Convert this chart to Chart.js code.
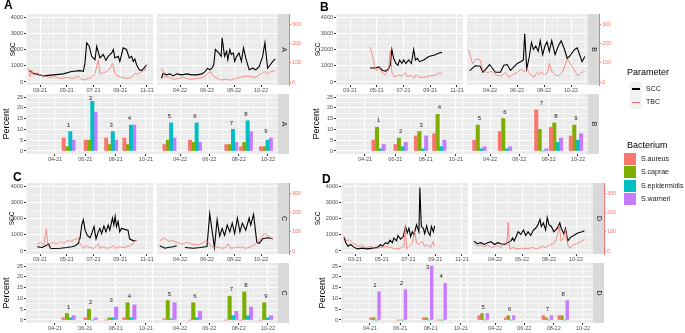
<!DOCTYPE html>
<html>
<head>
<meta charset="utf-8">
<script src="https://cdn.jsdelivr.net/npm/chart.js@4.4.1/dist/chart.umd.min.js"></script>
<style>
  body { margin: 0; width: 685px; height: 333px; background: #fff; position: relative; overflow: hidden;
         font-family: 'Liberation Sans', Arial, sans-serif; }
  .abs { position: absolute; white-space: nowrap; }
  .letter { font-size: 12px; font-weight: bold; line-height: 12px; color: #000; }
  .ltitle { font-size: 9px; line-height: 10px; color: #000; }
  .litem { font-size: 7px; line-height: 8px; color: #1A1A1A; }
</style>
</head>
<body>
<script>
// months are counted from Jan 2021 = 1 (Jan 2022 = 13)
// SCC / TBC series: [month, value]
const sccA21 = [[2.21,700],[2.51,540],[3.25,375],[4.00,440],[4.74,500],[5.37,650],[5.99,700],[6.24,650],[6.36,1160],[6.49,2400],[6.68,2200],[6.86,1580],[7.11,1370],[7.24,2200],[7.48,1480],[7.73,1690],[7.93,1330],[8.10,1580],[8.36,1790],[8.48,2000],[8.60,1480],[8.85,1580],[8.97,1270],[9.22,2100],[9.47,2000],[9.67,1480],[9.85,1580],[9.97,1270],[10.09,1420],[10.22,1060],[10.42,750],[10.59,700],[10.77,850],[10.97,1060]];
const tbcA21 = [[2.13,71],[2.26,28],[2.38,62],[2.51,36],[2.76,48],[3.00,36],[3.38,31],[3.75,24],[4.12,28],[4.50,19],[4.99,24],[5.49,19],[5.86,31],[6.12,14],[6.36,10],[6.61,19],[6.86,24],[7.11,45],[7.36,114],[7.48,42],[7.73,48],[7.98,54],[8.23,71],[8.43,97],[8.60,45],[8.85,31],[9.10,24],[9.47,19],[9.85,24],[10.09,45],[10.34,42],[10.59,54],[10.84,62],[10.97,88]];
const sccA22 = [[14.63,230],[14.75,540],[15.00,440],[15.25,500],[15.50,375],[15.75,500],[16.13,440],[16.50,500],[16.88,440],[17.25,440],[17.63,500],[17.87,650],[18.05,850],[18.20,750],[18.37,850],[18.50,1060],[18.62,2000],[18.87,1790],[19.05,1580],[19.12,2720],[19.30,1580],[19.45,1890],[19.54,1370],[19.69,2000],[19.80,1690],[19.95,1790],[20.05,1270],[20.20,1580],[20.37,1790],[20.55,1270],[20.70,2100],[20.87,1480],[21.12,750],[21.37,850],[21.62,750],[21.87,960],[22.12,1580],[22.29,2410],[22.49,850],[22.69,1060],[22.87,1270],[23.05,1420]];
const tbcA22 = [[14.63,71],[14.75,54],[14.88,24],[15.13,28],[15.50,14],[15.88,19],[16.25,24],[16.75,14],[17.25,19],[17.75,24],[18.00,42],[18.25,54],[18.50,28],[18.75,19],[19.00,10],[19.37,14],[19.75,10],[20.12,19],[20.49,24],[20.87,31],[21.24,28],[21.62,24],[21.99,42],[22.24,54],[22.49,42],[22.74,54],[23.04,59]];

const sccB21 = [[4.50,860],[4.88,860],[5.18,925],[5.43,710],[5.68,667],[5.88,817],[6.01,1030],[6.13,2000],[6.26,1460],[6.43,1140],[6.58,1030],[6.71,1355],[6.88,1140],[7.01,1355],[7.18,1140],[7.38,1355],[7.59,1140],[7.76,2000],[7.89,1355],[8.04,1460],[8.19,1250],[8.51,1355],[8.89,1570],[9.39,1680],[9.77,1830],[9.89,1785]];
const tbcB21 = [[4.50,182],[4.68,138],[4.83,85],[5.00,58],[5.18,76],[5.38,49],[5.63,37],[5.88,58],[6.01,164],[6.13,49],[6.33,26],[6.63,37],[6.88,32],[7.13,49],[7.33,26],[7.51,37],[7.76,19],[7.93,37],[8.26,23],[8.64,26],[9.01,32],[9.39,37],[9.76,49],[9.89,37]];
const sccB22 = [[14.50,700],[14.90,1000],[15.27,970],[15.48,600],[15.72,820],[15.97,1075],[16.40,600],[16.77,600],[17.02,1030],[17.27,1075],[17.52,710],[17.77,925],[18.02,1140],[18.27,1250],[18.47,1355],[18.57,2970],[18.72,820],[18.89,1460],[19.07,2430],[19.22,2000],[19.39,2215],[19.57,1890],[19.72,2540],[19.90,1680],[20.07,2215],[20.22,2470],[20.39,1890],[20.57,2540],[20.82,1680],[21.06,2215],[21.27,2540],[21.52,2000],[21.72,1460],[21.89,1570],[22.07,1785],[22.27,2000],[22.46,2100],[22.64,1680],[22.82,1250],[23.02,1570]];
const tbcB22 = [[14.40,170],[14.70,95],[15.00,120],[15.27,115],[15.48,58],[15.77,49],[16.15,55],[16.40,37],[16.77,32],[17.15,49],[17.40,23],[17.65,37],[18.02,49],[18.27,67],[18.52,55],[18.77,62],[19.02,37],[19.27,26],[19.47,49],[19.64,37],[19.82,55],[20.02,37],[20.27,49],[20.39,97],[20.57,58],[20.82,37],[21.06,32],[21.39,55],[21.72,120],[21.97,93],[22.27,58],[22.52,32],[22.77,49],[23.02,55]];

const sccC21 = [[2.79,257],[3.16,214],[3.41,320],[3.65,428],[3.78,171],[4.02,150],[4.52,171],[5.01,214],[5.39,257],[5.63,320],[5.87,470],[6.00,813],[6.12,1600],[6.24,1930],[6.37,1280],[6.54,960],[6.74,813],[6.87,1070],[7.04,1500],[7.19,750],[7.36,1180],[7.48,1390],[7.61,1070],[7.78,1540],[7.93,1180],[8.10,1600],[8.22,1280],[8.42,2030],[8.52,1600],[8.62,2140],[8.72,1500],[8.84,1820],[8.96,1180],[9.09,1390],[9.33,1330],[9.58,1280],[9.70,750],[9.95,640],[10.20,640]];
const tbcC21 = [[2.79,36],[3.04,45],[3.28,32],[3.48,115],[3.58,27],[3.78,39],[4.02,45],[4.27,36],[4.52,50],[4.77,39],[5.01,54],[5.26,50],[5.51,57],[5.75,63],[5.88,68],[6.00,36],[6.25,14],[6.49,27],[6.74,18],[6.99,14],[7.23,27],[7.36,36],[7.48,14],[7.73,22],[7.98,14],[8.22,18],[8.47,27],[8.72,14],[8.96,22],[9.21,18],[9.46,22],[9.70,27],[9.95,36],[10.07,57],[10.20,50]];
const sccC22 = [[14.50,320],[14.88,171],[15.12,214],[15.50,257],[15.75,320],[15.90,null],[16.37,214],[17.00,171],[17.50,214],[18.00,278],[18.20,2290],[18.37,1280],[18.55,214],[18.75,1930],[18.94,900],[19.12,1390],[19.30,960],[19.50,1600],[19.69,1180],[19.87,1710],[20.05,1070],[20.25,2030],[20.44,1180],[20.62,1710],[20.87,1280],[21.12,2030],[21.24,1600],[21.45,2250],[21.69,535],[21.87,470],[22.12,750],[22.49,813],[22.87,750]];
const tbcC22 = [[14.50,54],[14.88,68],[15.13,50],[15.50,54],[15.75,45],[16.13,36],[16.50,45],[16.87,36],[17.25,32],[17.62,39],[18.00,54],[18.25,27],[18.50,18],[18.75,22],[19.12,14],[19.37,18],[19.55,36],[19.75,14],[20.12,18],[20.49,22],[20.87,14],[21.24,22],[21.49,32],[21.74,45],[21.99,68],[22.24,90],[22.49,81],[22.74,68],[22.87,63]];

const sccD21 = [[2.18,843],[2.31,510],[2.48,290],[2.68,400],[2.93,222],[3.18,133],[3.55,178],[3.93,133],[4.30,178],[4.67,222],[4.92,400],[5.04,290],[5.29,510],[5.46,444],[5.61,666],[5.79,510],[5.91,800],[6.11,620],[6.21,955],[6.41,730],[6.61,888],[6.78,1510],[6.91,1110],[7.03,1400],[7.16,888],[7.28,1180],[7.41,1020],[7.60,1620],[7.78,1180],[7.85,3900],[7.96,1510],[8.11,1400],[8.21,1065],[8.36,1550],[8.46,1180],[8.61,955],[8.71,1510],[8.86,1180],[8.95,1550]];
const tbcD21 = [[2.18,78],[2.38,51],[2.55,60],[2.80,42],[3.05,33],[3.30,24],[3.55,29],[3.80,18],[4.17,24],[4.54,15],[4.92,18],[5.29,24],[5.66,18],[6.04,11],[6.41,15],[6.66,24],[6.76,133],[6.86,11],[7.03,24],[7.28,42],[7.46,102],[7.60,42],[7.78,33],[8.03,51],[8.20,24],[8.40,33],[8.66,18],[8.86,51],[8.95,24]];
const sccD22 = [[14.45,600],[14.70,450],[14.97,510],[15.22,400],[15.46,510],[15.71,577],[15.95,400],[16.20,510],[16.44,444],[16.69,400],[16.93,510],[17.18,620],[17.30,800],[17.42,620],[17.54,843],[17.72,1180],[17.91,1020],[18.11,1290],[18.28,955],[18.45,1180],[18.65,955],[18.84,1290],[19.01,1400],[19.19,1620],[19.33,1950],[19.43,1510],[19.58,1730],[19.75,1290],[19.87,2060],[20.00,1620],[20.17,1510],[20.36,1180],[20.61,1400],[20.80,1730],[20.90,1400],[21.10,1065],[21.22,1400],[21.39,620],[21.59,843],[21.83,955],[22.13,1110],[22.45,1180],[22.62,1245]];
const tbcD22 = [[14.45,40],[14.70,25],[14.97,33],[15.22,24],[15.46,29],[15.83,18],[16.20,29],[16.44,18],[16.69,42],[16.88,33],[16.98,151],[17.08,11],[17.30,18],[17.67,11],[18.03,15],[18.40,11],[18.77,18],[19.14,11],[19.50,24],[19.75,18],[20.12,33],[20.41,42],[20.61,78],[20.75,133],[20.90,51],[21.10,69],[21.22,115],[21.39,33],[21.54,15],[21.83,33],[22.20,42],[22.62,60]];

// bacteria percentages per sampling: [S.aureus, S.caprae, S.epidermidis, S.warneri]
const bacteria = ['S.aureus', 'S.caprae', 'S.epidermidis', 'S.warneri'];
const dates21 = [4.9, 6.35, 7.7, 8.9];
const dates22 = [15.28, 17.02, 19.5, 20.5, 21.86];
const datesD21 = [4.33, 6.07, 7.8, 8.69];
const datesD22 = [15.2, 17.0, 19.57, 20.65];
const samples21 = ['1', '2', '3', '4'];
const samples22 = ['5', '6', '7', '8', '9'];
const samplesD22 = ['5', '6', '7', '8'];
const barsA21 = [[6,2,9,5],[5,5,23,18],[6,3,9,5],[6,3,12,12]];
const barsA22 = [[3,5,13,6],[5,4,13,4],[3,3,10,4],[2,4,14,9],[2,2,5,6]];
const barsB21 = [[5,11,1,3],[3,6,2,4],[7,9,1,7],[8,17,2,5]];
const barsB22 = [[5,12,1,2],[9,15,1,2],[19,10,0,1],[11,13,4,6],[7,12,5,8]];
const barsC21 = [[1,3,1,2],[1,5,0,1],[0,1,1,6],[1,8,1,7]];
const barsC22 = [[0.5,9,0.5,8],[0,8,1,4],[0,11,2,4],[0,13,2,6],[0,8,1,2]];
const barsD21 = [[1,1,0,13],[0,0,0,14],[1,1,0,25],[0,0,0,17]];
const barsD22 = [[2,3,0,3],[1,2,0,2],[2,1,0,2],[2,2,0,9]];

const COLORS = ['#F8766D', '#7CAE00', '#00BFC4', '#C77CFF'];
const RED = '#F8766D';
const FONT = "'Liberation Sans', Arial, sans-serif";
const tickFont = { family: FONT, size: 5.5, lineHeight: 1 };
Chart.defaults.font.family = FONT;

const panels = [
  { key: 'A', ox: 0, oy: 0, letter: [4, -1], sccX: 13, pctX: 7, bw: 3.3,
    scc21: sccA21, tbc21: tbcA21, scc22: sccA22, tbc22: tbcA22,
    d21: dates21, b21: barsA21, n21: samples21, d22: dates22, b22: barsA22, n22: samples22 },
  { key: 'B', ox: 310, oy: 0, letter: [320, 1], sccX: 318.3, pctX: 316.7, bw: 3.4,
    scc21: sccB21, tbc21: tbcB21, scc22: sccB22, tbc22: tbcB22,
    d21: dates21, b21: barsB21, n21: samples21, d22: dates22, b22: barsB22, n22: samples22 },
  { key: 'C', ox: 0, oy: 169, letter: [13, 171], sccX: 12.5, pctX: 6.7, bw: 3.4,
    scc21: sccC21, tbc21: tbcC21, scc22: sccC22, tbc22: tbcC22,
    d21: dates21, b21: barsC21, n21: samples21, d22: dates22, b22: barsC22, n22: samples22 },
  { key: 'D', ox: 315, oy: 169, letter: [322, 172.5], sccX: 318.3, pctX: 322.5, bw: 2.7,
    scc21: sccD21, tbc21: tbcD21, scc22: sccD22, tbc22: tbcD22,
    d21: datesD21, b21: barsD21, n21: samples21, d22: datesD22, b22: barsD22, n22: samplesD22 }
];

function mlab(v) {
  const n = Math.round(v) - 1;
  return String(n % 12 + 1).padStart(2, '0') + '-' + (21 + Math.floor(n / 12));
}

// fixed tick list between the axis limits (Chart.js otherwise picks odd steps here)
function stepTicks(min, max, step) {
  const out = [];
  for (let v = Math.ceil(min / step) * step; v <= max + 1e-9; v += step) out.push({ value: Math.round(v * 1000) / 1000 });
  return out;
}

function makeCanvas(left, top, w, h) {
  const d = document.createElement('div');
  d.className = 'abs';
  d.style.left = left + 'px'; d.style.top = top + 'px';
  d.style.width = w + 'px'; d.style.height = h + 'px';
  const c = document.createElement('canvas');
  d.appendChild(c);
  document.body.appendChild(d);
  return c;
}

function addText(cls, text, left, top) {
  const d = document.createElement('div');
  d.className = 'abs ' + cls;
  d.textContent = text;
  d.style.left = left + 'px'; d.style.top = top + 'px';
  document.body.appendChild(d);
  return d;
}

function addBox(left, top, w, h, color) {
  const d = document.createElement('div');
  d.className = 'abs';
  Object.assign(d.style, { left: left + 'px', top: top + 'px', width: w + 'px', height: h + 'px', background: color });
  document.body.appendChild(d);
}

const panelBg = {
  id: 'panelBg',
  beforeDraw(ch) {
    const a = ch.chartArea, c = ch.ctx;
    c.save(); c.fillStyle = '#EBEBEB';
    c.fillRect(a.left, a.top, a.right - a.left, a.bottom - a.top);
    c.restore();
  }
};

function xAxis(min, max, oddMajor) {
  const major = v => Math.abs(Math.round(v) % 2) === (oddMajor ? 1 : 0);
  return {
    type: 'linear', position: 'bottom', min, max, offset: false,
    afterBuildTicks: s => { s.ticks = stepTicks(min, max, 1); },
    ticks: { autoSkip: false, maxRotation: 0, minRotation: 0,
             padding: 0.5, color: '#4D4D4D', font: tickFont, callback: v => major(v) ? mlab(v) : '' },
    grid: { offset: false, color: '#FFFFFF', lineWidth: c => (c.tick && major(c.tick.value)) ? 1 : 0.5,
            tickLength: 2, tickWidth: 1,
            tickColor: c => (c.tick && major(c.tick.value)) ? '#333333' : 'rgba(0,0,0,0)' },
    border: { display: false },
    afterFit: s => { s.height = 10; }
  };
}

function yAxis(min, max, step, every, show, title, titlePad, width) {
  const major = v => Math.abs(v % every) < 1e-9;
  return {
    type: 'linear', position: 'left', min, max,
    afterBuildTicks: s => { s.ticks = stepTicks(min, max, step); },
    ticks: { display: show, autoSkip: false, padding: 1,
             color: '#4D4D4D', font: tickFont, callback: v => major(v) ? v : '' },
    grid: { color: '#FFFFFF', lineWidth: c => (c.tick && major(c.tick.value)) ? 1 : 0.5,
            drawTicks: show, tickLength: 2,
            tickColor: c => (c.tick && major(c.tick.value)) ? '#333333' : 'rgba(0,0,0,0)' },
    border: { display: false },
    title: { display: !!title, text: title || '', color: '#000',
             font: { family: FONT, size: title === 'SCC' ? 6.5 : 9, lineHeight: 1 },
             padding: { top: titlePad || 0, bottom: 0 } },
    afterFit: s => { s.width = width; }
  };
}

function stripAxis(text) {
  return {
    type: 'linear', position: 'right', weight: 1, min: 0, max: 1, backgroundColor: '#D9D9D9',
    ticks: { display: false }, grid: { display: false }, border: { display: false },
    title: { display: true, text, color: '#1A1A1A', font: { family: FONT, size: 7, lineHeight: 1 },
             padding: { top: 2, bottom: 0 } },
    afterFit: s => { s.width = 11; }
  };
}

const baseOpts = {
  responsive: true, maintainAspectRatio: false, animation: false, devicePixelRatio: 1, events: [],
  plugins: { legend: { display: false }, tooltip: { enabled: false } }
};

// ---- line row: SCC (left axis) and TBC (right axis) ----
const LY = { top: 14, bottom: 85 };
function lineFacet(p, left) {
  const pad = 4;
  const caL = left ? 26 : 157, caR = left ? 153 : 278;
  const divL = p.ox + (left ? 0 : caL - pad);
  const divR = p.ox + caR + (left ? 0 : 11 + 20) + pad;
  const divT = p.oy + LY.top - pad;
  const divH = (LY.bottom - LY.top) + pad + 10 + 2;
  const canvas = makeCanvas(divL, divT, divR - divL, divH);
  const scc = left ? p.scc21 : p.scc22, tbc = left ? p.tbc21 : p.tbc22;
  const scales = {
    x: left ? xAxis(1.953, 11.449, true) : xAxis(14.296, 23.259, false),
    y: yAxis(-185, 4185, 500, 1000, left, left ? 'SCC' : null, left ? p.sccX - p.ox - 3.25 : 0, left ? caL : 0),
    y1: {
      type: 'linear', position: 'right', weight: 2, display: !left, min: -15.6, max: 354,
      afterBuildTicks: s => { s.ticks = stepTicks(-15.6, 354, 100); },
      ticks: { autoSkip: false, padding: 1, color: RED, font: tickFont },
      grid: { drawOnChartArea: false, tickLength: 2, tickColor: RED, color: RED },
      border: { display: true, color: RED, width: 1 },
      afterFit: s => { s.width = left ? 0 : 20; }
    }
  };
  if (!left) scales.strip = stripAxis(p.key);
  new Chart(canvas, {
    type: 'line',
    data: { datasets: [
      { label: 'TBC', data: tbc.map(([x, y]) => ({ x, y })), yAxisID: 'y1', borderColor: RED,
        borderWidth: 0.8, pointRadius: 0, tension: 0 },
      { label: 'SCC', data: scc.map(([x, y]) => ({ x, y })), yAxisID: 'y', borderColor: '#000000',
        borderWidth: 1.1, pointRadius: 0, tension: 0 }
    ] },
    options: Object.assign({}, baseOpts, {
      layout: { padding: { left: left ? 0 : pad, right: pad, top: pad, bottom: 2 } },
      scales
    }),
    plugins: [panelBg]
  });
}

// ---- bar row: bacteria percentages ----
const BY = { top: 94, bottom: 154 };
function barFacet(p, left) {
  const pad = 4;
  const caL = left ? 26 : 153, caR = left ? 152 : 278;
  const divL = p.ox + (left ? 0 : caL - pad);
  const divR = p.ox + caR + (left ? 0 : 11) + pad;
  const divT = p.oy + BY.top - pad;
  const divH = (BY.bottom - BY.top) + pad + 10 + 2;
  const canvas = makeCanvas(divL, divT, divR - divL, divH);
  const dates = left ? p.d21 : p.d22, rows = left ? p.b21 : p.b22, names = left ? p.n21 : p.n22;
  const scales = {
    x: left ? xAxis(2.088, 10.396, false) : xAxis(14.159, 22.682, false),
    y: yAxis(-1.39, 26.39, 2.5, 5, left, left ? 'Percent' : null, left ? p.pctX - p.ox - 4.5 : 0, left ? caL : 0)
  };
  if (!left) scales.strip = stripAxis(p.key);
  const sampleLabels = {
    id: 'sampleLabels',
    afterDatasetsDraw(ch) {
      const c = ch.ctx, xs = ch.scales.x, ys = ch.scales.y;
      c.save();
      c.font = '6px ' + FONT; c.fillStyle = '#1A1A1A';
      c.textAlign = 'center'; c.textBaseline = 'middle';
      dates.forEach((d, i) => {
        const top = Math.min(Math.max(...rows[i]) + 3, 24.5);
        c.fillText(names[i], xs.getPixelForValue(d), ys.getPixelForValue(top));
      });
      c.restore();
    }
  };
  new Chart(canvas, {
    type: 'bar',
    data: { datasets: bacteria.map((b, k) => ({
      label: b, data: dates.map((d, i) => ({ x: d, y: rows[i][k] })),
      backgroundColor: COLORS[k], borderWidth: 0, barThickness: p.bw, grouped: true
    })) },
    options: Object.assign({}, baseOpts, {
      layout: { padding: { left: left ? 0 : pad, right: pad, top: pad, bottom: 2 } },
      scales
    }),
    plugins: [panelBg, sampleLabels]
  });
}

panels.forEach(p => {
  lineFacet(p, true); lineFacet(p, false);
  barFacet(p, true); barFacet(p, false);
  addText('letter', p.key, p.letter[0], p.letter[1]);
});

// ---- legends ----
addText('ltitle', 'Parameter', 627, 67);
addBox(630, 82, 12, 27, '#F2F2F2');
addBox(632, 88.3, 8, 1.4, '#000000');
addText('litem', 'SCC', 646, 85);
addBox(632, 101.5, 8, 1, RED);
addText('litem', 'TBC', 646, 98);
addText('ltitle', 'Bacterium', 627, 140);
bacteria.forEach((b, k) => {
  const top = 153 + k * 13.3;
  addBox(624, top, 12, 12, COLORS[k]);
  addText('litem', b, 641, top + 2);
});
</script>
</body>
</html>
